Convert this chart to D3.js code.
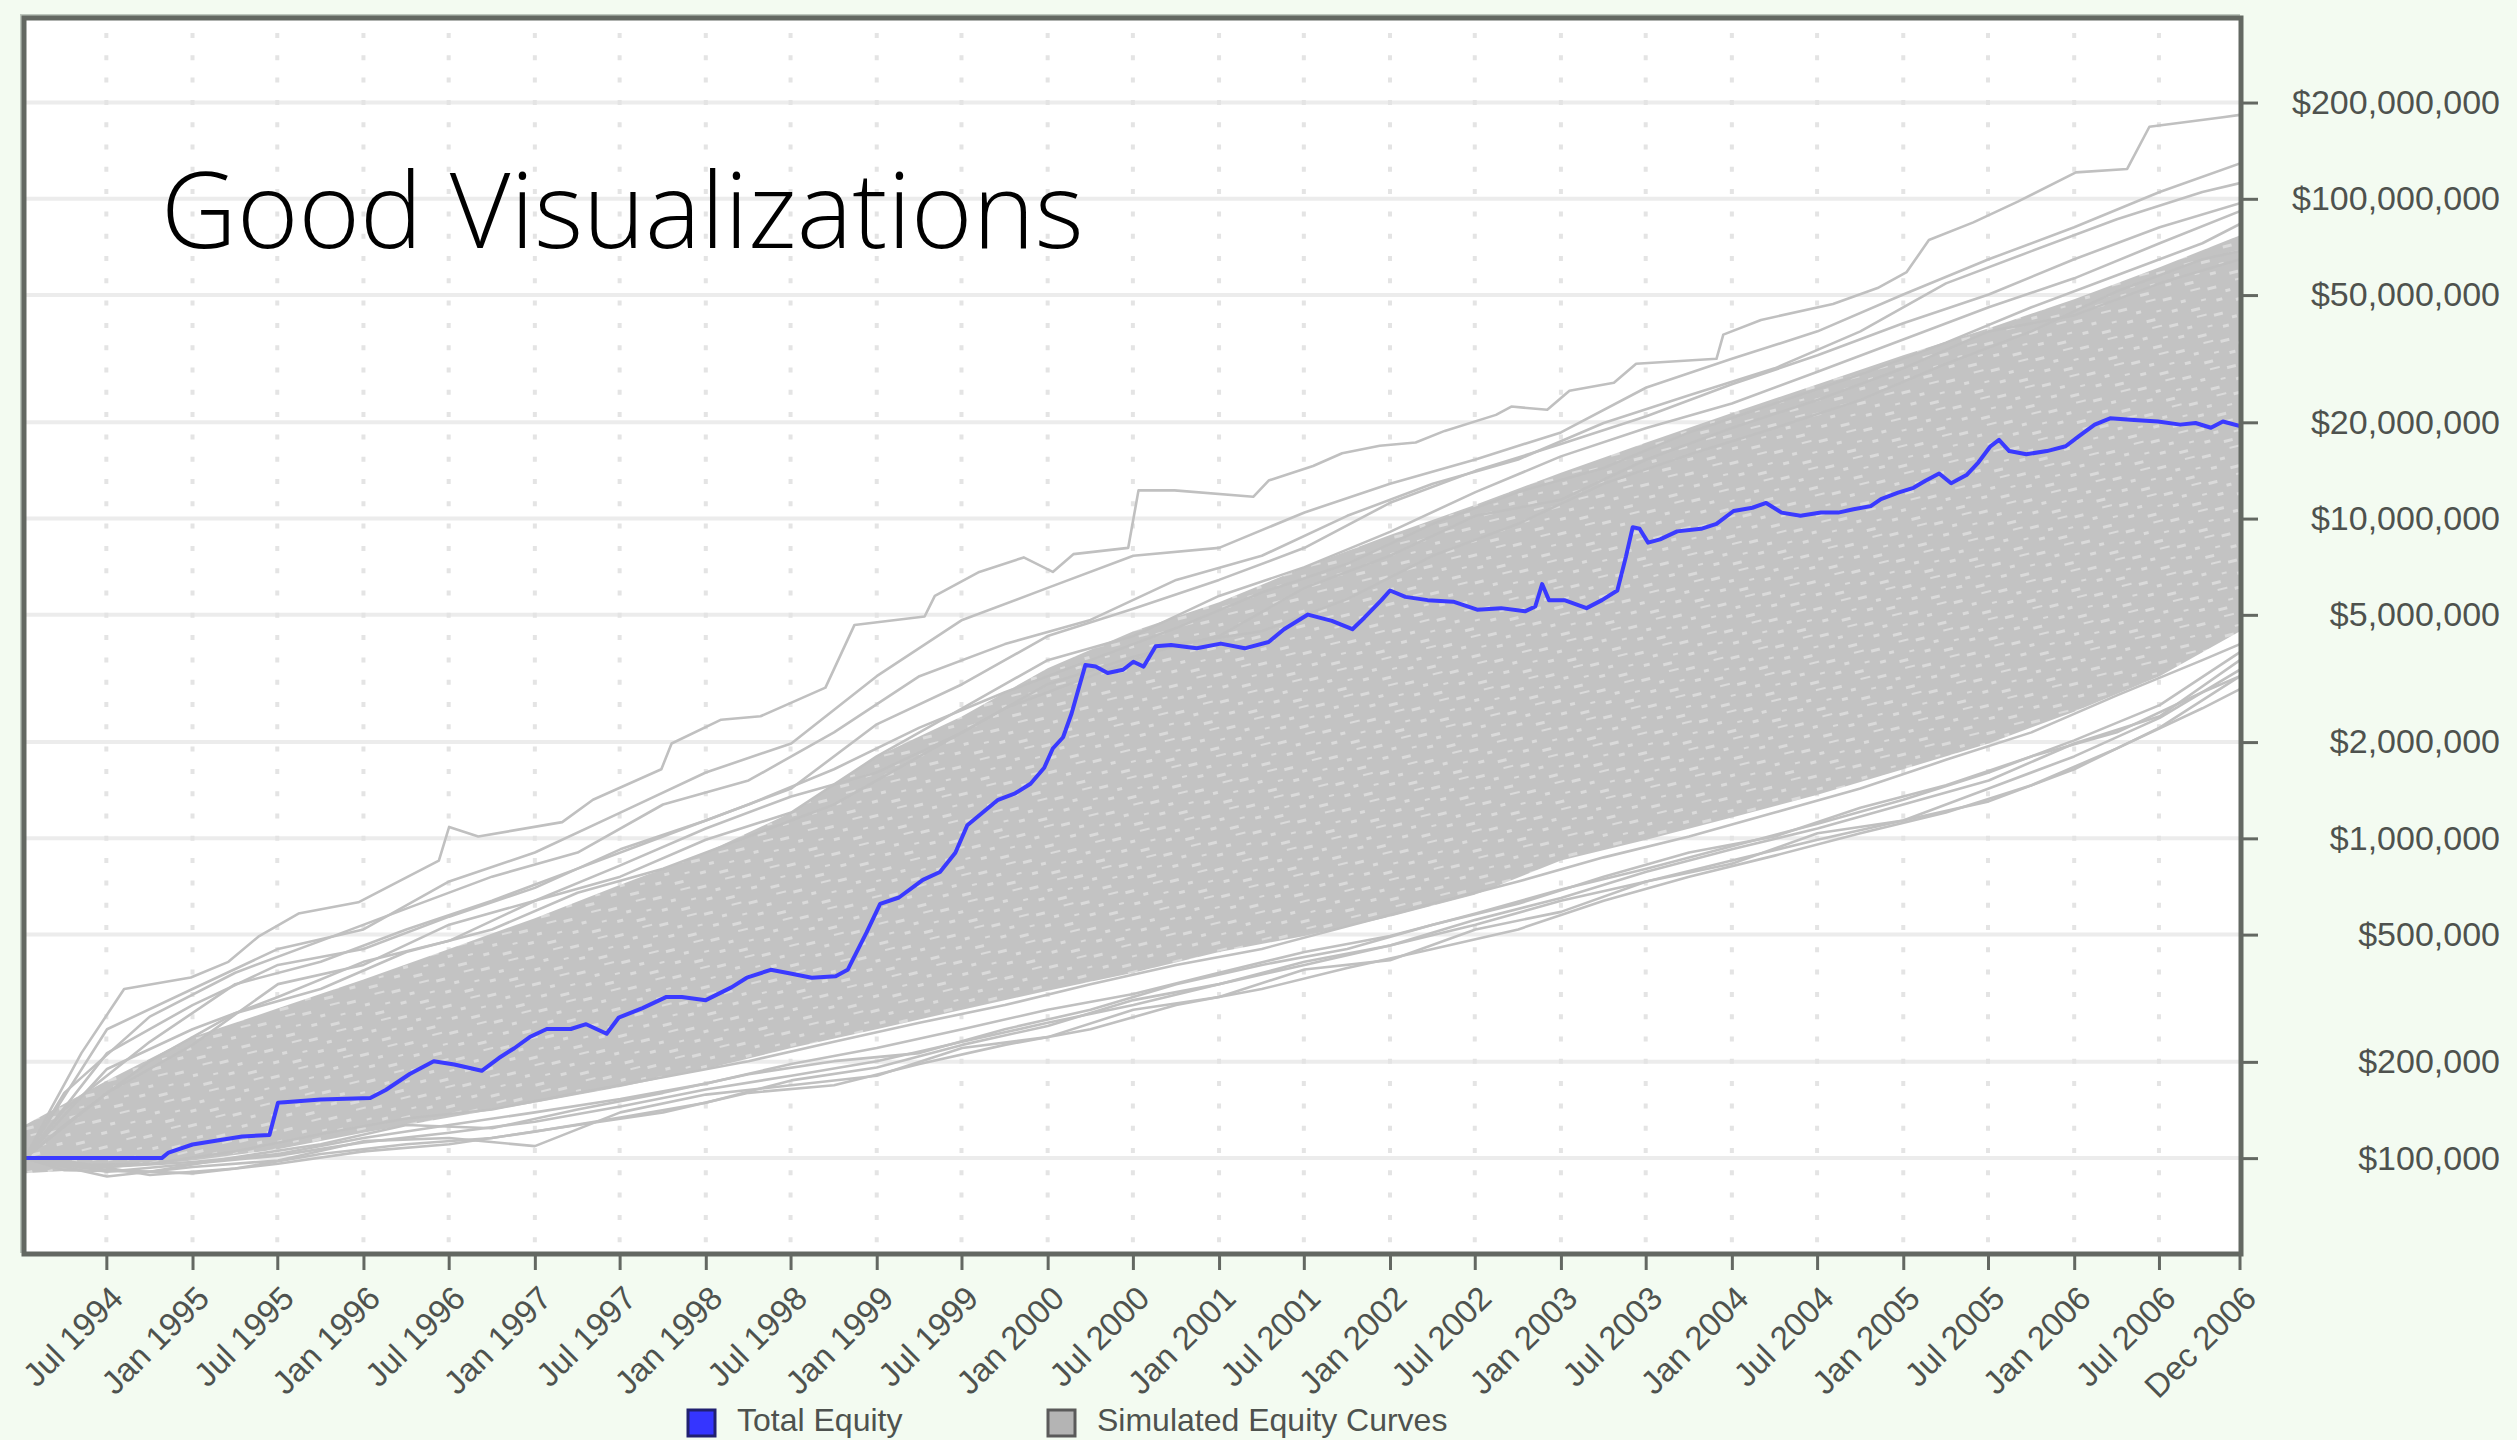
<!DOCTYPE html>
<html>
<head>
<meta charset="utf-8">
<script src="https://cdn.jsdelivr.net/npm/d3@7"></script>
<style>
  html, body { margin: 0; padding: 0; background: #f3fbf1; overflow: hidden; }
  svg { display: block; }
</style>
</head>
<body>
<svg id="chart" width="2517" height="1440"></svg>
<script>
// ---------------- DATA ----------------
const titleText = "Good Visualizations";

const xDomainYears = [1994.02, 2006.97];
const yDomain = [50500, 365000000];

const xTickDates = ["1994-07-01","1995-01-01","1995-07-01","1996-01-01","1996-07-01","1997-01-01","1997-07-01",
  "1998-01-01","1998-07-01","1999-01-01","1999-07-01","2000-01-01","2000-07-01","2001-01-01","2001-07-01",
  "2002-01-01","2002-07-01","2003-01-01","2003-07-01","2004-01-01","2004-07-01","2005-01-01","2005-07-01",
  "2006-01-01","2006-07-01","2006-12-20"];
const xTickLabels = ["Jul 1994","Jan 1995","Jul 1995","Jan 1996","Jul 1996","Jan 1997","Jul 1997",
  "Jan 1998","Jul 1998","Jan 1999","Jul 1999","Jan 2000","Jul 2000","Jan 2001","Jul 2001",
  "Jan 2002","Jul 2002","Jan 2003","Jul 2003","Jan 2004","Jul 2004","Jan 2005","Jul 2005",
  "Jan 2006","Jul 2006","Dec 2006"];

const yTickValues = [100000, 200000, 500000, 1000000, 2000000, 5000000, 10000000, 20000000, 50000000, 100000000, 200000000];
const yTickLabels = ["$100,000","$200,000","$500,000","$1,000,000","$2,000,000","$5,000,000","$10,000,000",
  "$20,000,000","$50,000,000","$100,000,000","$200,000,000"];

const legendLabels = ["Total Equity", "Simulated Equity Curves"];

// Total Equity (blue) : [decimal year, equity $]
const totalEquity = [
 [1994.02,100000],[1994.82,100000],[1994.86,104100],[1995.00,110300],[1995.29,116900],[1995.45,118200],
 [1995.50,149000],[1995.75,152400],[1996.04,154200],[1996.13,163300],[1996.27,183300],[1996.41,201000],
 [1996.53,196300],[1996.69,187500],[1996.79,205600],[1996.88,220600],[1996.97,239100],[1997.07,253400],
 [1997.21,253400],[1997.30,262300],[1997.42,244800],[1997.49,274900],[1997.63,294600],[1997.77,319200],
 [1997.86,319200],[1998.00,311900],[1998.15,342000],[1998.24,366600],[1998.38,388000],[1998.48,379200],
 [1998.62,366600],[1998.76,370600],[1998.83,388000],[1998.94,506900],[1999.02,623700],[1999.13,653100],
 [1999.27,741300],[1999.37,785100],[1999.46,901600],[1999.53,1099000],[1999.62,1204000],[1999.71,1320000],
 [1999.81,1383000],[1999.90,1482000],[1999.98,1663000],[2000.03,1910000],[2000.09,2071000],[2000.14,2461000],
 [2000.18,2930000],[2000.22,3485000],[2000.28,3445000],[2000.35,3290000],[2000.44,3368000],[2000.50,3566000],
 [2000.56,3445000],[2000.63,3985000],[2000.72,4022000],[2000.87,3929000],[2001.01,4065000],[2001.15,3929000],
 [2001.29,4113000],[2001.38,4508000],[2001.52,5010000],[2001.66,4786000],[2001.78,4508000],[2001.85,4898000],
 [2001.95,5558000],[2002.00,5957000],[2002.09,5690000],[2002.22,5558000],[2002.37,5496000],[2002.51,5188000],
 [2002.65,5247000],[2002.79,5128000],[2002.85,5310000],[2002.89,6240000],[2002.93,5558000],[2003.02,5558000],
 [2003.15,5247000],[2003.24,5558000],[2003.33,5957000],[2003.38,7590000],[2003.42,9400000],[2003.46,9290000],
 [2003.51,8410000],[2003.58,8610000],[2003.68,9120000],[2003.82,9290000],[2003.91,9620000],[2004.01,10560000],
 [2004.12,10810000],[2004.20,11190000],[2004.29,10440000],[2004.40,10200000],[2004.52,10440000],[2004.62,10440000],
 [2004.71,10690000],[2004.81,10940000],[2004.87,11510000],[2004.97,12050000],[2005.06,12480000],[2005.13,13130000],
 [2005.21,13840000],[2005.28,12900000],[2005.37,13680000],[2005.44,15000000],[2005.51,16830000],[2005.56,17620000],
 [2005.62,16260000],[2005.72,15890000],[2005.84,16260000],[2005.95,16830000],[2006.03,18150000],[2006.12,19670000],
 [2006.21,20590000],[2006.35,20350000],[2006.49,20120000],[2006.62,19670000],[2006.71,19900000],[2006.80,19230000],
 [2006.87,20120000],[2006.97,19450000]
];

// sampling grids (decimal years) for the simulated curves
const gridA = [1994.02,1994.5,1995.0,1995.5,1996.0,1996.5,1997.0,1997.5,1998.0,1998.5,1999.0,1999.5,2000.0,
  2000.5,2001.0,2001.5,2002.0,2002.5,2003.0,2003.5,2004.0,2004.5,2005.0,2005.5,2006.0,2006.5,2006.97];
const gridB = [1994.02,1994.25,1994.75,1995.25,1995.75,1996.25,1996.75,1997.25,1997.75,1998.25,1998.75,1999.25,
  1999.75,2000.25,2000.75,2001.25,2001.75,2002.25,2002.75,2003.25,2003.75,2004.25,2004.75,2005.25,2005.75,
  2006.25,2006.75,2006.97];

// dense core of the simulated curves (upper and lower edge, on gridA)
const simCoreUpper = [127000,175000,239000,294000,362000,451000,563000,716000,903000,1204000,1804000,2408000,
  3405000,4440000,5470000,7050000,8880000,11050000,13900000,17300000,21400000,26300000,32400000,39400000,
  48500000,61100000,76900000];
const simCoreLower = [89600,92800,98300,106600,120000,134000,149000,167000,190000,221000,253000,291000,334000,
  380000,441000,495000,569000,668000,852000,990000,1163000,1368000,1645000,1980000,2490000,3214000,4440000];

// individual simulated curves at the fringes
const simTop = [
 [1994.02,100000],[1994.17,142000],[1994.35,213000],[1994.60,338000],[1994.99,367000],[1995.21,411000],
 [1995.39,495000],[1995.62,582000],[1995.97,631000],[1996.15,708000],[1996.44,852000],[1996.50,1086000],
 [1996.67,1013000],[1997.16,1124000],[1997.34,1320000],[1997.74,1645000],[1997.80,1980000],[1998.09,2350000],
 [1998.32,2408000],[1998.70,2960000],[1998.87,4650000],[1999.28,4940000],[1999.34,5730000],[1999.60,6810000],
 [1999.86,7560000],[2000.03,6810000],[2000.15,7740000],[2000.47,8100000],[2000.53,12250000],[2000.74,12250000],
 [2001.20,11700000],[2001.29,13150000],[2001.55,14600000],[2001.72,16000000],[2001.94,16900000],[2002.15,17300000],
 [2002.32,18800000],[2002.62,21100000],[2002.71,22400000],[2002.92,21900000],[2003.05,25100000],[2003.31,26600000],
 [2003.44,30500000],[2003.91,31600000],[2003.95,37600000],[2004.17,41800000],[2004.59,46900000],[2004.85,52600000],
 [2005.02,59000000],[2005.15,74300000],[2005.41,84400000],[2005.67,98000000],[2006.01,121000000],[2006.31,124000000],
 [2006.44,168000000],[2006.87,180000000],[2006.97,183000000]
];
const simUpper2 = [100000,253000,338000,451000,519000,733000,903000,1204000,1607000,1980000,3214000,4820000,
  6070000,7650000,8100000,10450000,12850000,15300000,18600000,25700000,31600000,38500000,50200000,64700000,
  81500000,105000000,129000000];
const simUpper3 = [100000,160000,277000,380000,478000,603000,759000,903000,1276000,1517000,2145000,3214000,
  4050000,4820000,6430000,7650000,10200000,12850000,15300000,19900000,24300000,29500000,38500000,54400000,
  68600000,86300000,105000000,112000000];
const simUpper4 = [100000,213000,301000,402000,451000,569000,700000,924000,1137000,1432000,2273000,3034000,
  4290000,5220000,6430000,8100000,11200000,14100000,17100000,20900000,26300000,32400000,40800000,50200000,
  64700000,81500000,96900000];
const simUpper5 = [100000,142000,231000,350000,411000,519000,638000,804000,1013000,1276000,1645000,2220000,
  2864000,3608000,4545000,5870000,7220000,9630000,12100000,14400000,18600000,22900000,28200000,35500000,
  45800000,57700000,72600000,83400000];
const simUpper6 = [100000,190000,253000,319000,411000,478000,638000,759000,990000,1204000,1804000,2551000,
  3608000,4290000,5730000,7050000,9090000,12100000,15650000,19200000,22900000,28800000,36300000,45800000,
  56400000,72600000,91500000];
const simUpper7 = [100000,127000,201000,284000,338000,441000,519000,676000,804000,1013000,1276000,1804000,
  2551000,3214000,4050000,4440000,5600000,7650000,9630000,12850000,15850000,19200000,23500000,30500000,
  38500000,51400000,64700000,68600000];
const simUpper8 = [100000,160000,226000,350000,402000,537000,638000,823000,1073000,1352000,1607000,2145000,
  3034000,3700000,4290000,6070000,7650000,10200000,11450000,15300000,19200000,23500000,29500000,38500000,
  43200000,54400000,64700000];
const simLower1 = [100000,87600,93800,98300,113000,115600,109000,139000,158000,169000,181000,221000,239000,
  291000,319000,389000,416000,519000,589000,733000,833000,1037000,1137000,1432000,1804000,2380000,3370000];
const simLower2 = [100000,91700,90700,100600,110500,127000,124000,142000,160000,183000,201000,213000,253000,
  291000,350000,402000,451000,537000,624000,759000,903000,1013000,1247000,1466000,1804000,2145000,2864000,3214000];
const simLower3 = [100000,93800,97200,103000,115600,127000,139000,153000,171000,197000,221000,253000,291000,
  326000,380000,441000,495000,582000,692000,804000,945000,1110000,1320000,1607000,2025000,2610000,3822000];
const simLower4 = [100000,94900,96000,105000,119000,133000,142000,160000,179000,201000,231000,265000,301000,
  350000,402000,451000,531000,625000,733000,872000,1013000,1204000,1432000,1760000,2145000,2800000,3608000,4050000];
const simLower5 = [100000,90700,96000,101800,112000,120000,130000,145000,164000,181000,201000,231000,265000,
  301000,350000,411000,462000,537000,638000,733000,852000,990000,1137000,1305000,1645000,2220000,3214000];
const simLower6 = [100000,98300,88600,92800,103000,110500,115600,127000,139000,160000,169000,197000,226000,
  253000,301000,338000,393000,451000,519000,638000,759000,883000,1037000,1204000,1466000,1911000,2551000,2930000];
const simLower7 = [100000,91700,89600,96000,105000,110500,121000,134000,149000,175000,192000,226000,259000,
  312000,350000,402000,462000,556000,651000,786000,924000,1073000,1276000,1517000,1980000,2408000,3608000];

// ---------------- HELPERS ----------------
function decYear(v) {
  const yr = Math.floor(v);
  const a = new Date(yr, 0, 1), b = new Date(yr + 1, 0, 1);
  return new Date(+a + (v - yr) * (b - a));
}
const parseDate = d3.timeParse("%Y-%m-%d");

// ---------------- LAYOUT ----------------
const W = 2517, H = 1440;
const plot = { left: 25, right: 2240, top: 19, bottom: 1253 };

const svg = d3.select("#chart");
svg.append("rect").attr("width", W).attr("height", H).attr("fill", "#f3fbf1");

const defs = svg.append("defs");
// light speckle texture for the dense band of overlapping curves
const pat = defs.append("pattern").attr("id", "speckle")
  .attr("patternUnits", "userSpaceOnUse").attr("width", 46).attr("height", 27)
  .attr("patternTransform", "rotate(-14)");
pat.append("rect").attr("width", 46).attr("height", 27).attr("fill", "#c3c3c3");
[[2,3,9,3],[19,9,5,3],[31,1,10,2],[8,16,6,3],[27,20,9,3],[39,13,5,2]].forEach(r => {
  pat.append("rect").attr("x", r[0]).attr("y", r[1]).attr("width", r[2]).attr("height", r[3])
    .attr("fill", "#dadada");
});

const x = d3.scaleTime().domain(xDomainYears.map(decYear)).range([plot.left, plot.right]);
const y = d3.scaleLog().domain(yDomain).range([plot.bottom, plot.top]);

svg.append("rect").attr("x", plot.left).attr("y", plot.top)
  .attr("width", plot.right - plot.left).attr("height", plot.bottom - plot.top).attr("fill", "#ffffff");

const gridG = svg.append("g");
gridG.selectAll("line.h").data(yTickValues).join("line")
  .attr("x1", plot.left).attr("x2", plot.right)
  .attr("y1", d => y(d)).attr("y2", d => y(d))
  .attr("stroke", "#ececec").attr("stroke-width", 4);
gridG.selectAll("line.v").data(xTickDates.slice(0, -1)).join("line")
  .attr("x1", d => x(parseDate(d))).attr("x2", d => x(parseDate(d)))
  .attr("y1", plot.top + 14).attr("y2", plot.bottom)
  .attr("stroke", "#e4e4e4").attr("stroke-width", 4)
  .attr("stroke-dasharray", "5 17.3");

defs.append("clipPath").attr("id", "plotclip").append("rect")
  .attr("x", plot.left).attr("y", plot.top)
  .attr("width", plot.right - plot.left).attr("height", plot.bottom - plot.top);

const dataG = svg.append("g").attr("clip-path", "url(#plotclip)");

// dense core of simulations
const core = gridA.map((t, i) => ({ t, hi: simCoreUpper[i], lo: simCoreLower[i] }));
dataG.append("path").datum(core)
  .attr("d", d3.area().x(d => x(decYear(d.t))).y0(d => y(d.lo)).y1(d => y(d.hi)))
  .attr("fill", "url(#speckle)");

const simGray = "#c0c0c0";
const line = d3.line().x(d => x(decYear(d[0]))).y(d => y(d[1]));
const onGrid = (grid, vals) => grid.map((t, i) => [t, vals[i]]);
const simCurves = [
  simTop,
  onGrid(gridA, simUpper2), onGrid(gridB, simUpper3), onGrid(gridA, simUpper4),
  onGrid(gridB, simUpper5), onGrid(gridA, simUpper6), onGrid(gridB, simUpper7), onGrid(gridA, simUpper8),
  onGrid(gridA, simLower1), onGrid(gridB, simLower2), onGrid(gridA, simLower3),
  onGrid(gridB, simLower4), onGrid(gridA, simLower5), onGrid(gridB, simLower6), onGrid(gridA, simLower7)
];
dataG.selectAll("path.sim").data(simCurves).join("path")
  .attr("class", "sim").attr("d", line)
  .attr("fill", "none").attr("stroke", simGray).attr("stroke-width", 2.6)
  .attr("stroke-linejoin", "round");

// total equity
dataG.append("path").datum(totalEquity).attr("d", line)
  .attr("fill", "none").attr("stroke", "#3a3aff").attr("stroke-width", 4)
  .attr("stroke-linejoin", "round");

// ---------------- AXES / FRAME ----------------
const axisColor = "#636862";
svg.append("path")
  .attr("d", `M${plot.left - 4},${plot.bottom} V${plot.top - 4} H${plot.right}`)
  .attr("fill", "none").attr("stroke", "#bcc6bc").attr("stroke-width", 2);
svg.append("rect").attr("x", plot.left - 1).attr("y", plot.top - 1)
  .attr("width", plot.right - plot.left + 2).attr("height", plot.bottom - plot.top + 2)
  .attr("fill", "none").attr("stroke", axisColor).attr("stroke-width", 5);

const xAxis = d3.axisBottom(x)
  .tickValues(xTickDates.map(parseDate))
  .tickFormat((d, i) => xTickLabels[i])
  .tickSize(16).tickSizeOuter(0);
const gx = svg.append("g").attr("transform", `translate(0,${plot.bottom + 1})`).call(xAxis);
gx.select(".domain").remove();
gx.selectAll(".tick line").attr("stroke", axisColor).attr("stroke-width", 3);
gx.selectAll(".tick text")
  .attr("font-family", "'Liberation Sans', Arial, sans-serif")
  .attr("font-size", 33).attr("fill", "#4e524e")
  .attr("text-anchor", "end")
  .attr("dy", null).attr("y", 0)
  .attr("transform", "translate(12,40) rotate(-45)")
  .attr("dominant-baseline", "middle");

const yAxis = d3.axisRight(y)
  .tickValues(yTickValues)
  .tickFormat((d, i) => yTickLabels[i])
  .tickSize(17).tickSizeOuter(0);
const gy = svg.append("g").attr("transform", `translate(${plot.right + 1},0)`).call(yAxis);
gy.select(".domain").remove();
gy.selectAll(".tick line").attr("stroke", axisColor).attr("stroke-width", 3);
gy.selectAll(".tick text")
  .attr("font-family", "'Liberation Sans', Arial, sans-serif")
  .attr("font-size", 34).attr("fill", "#4e524e")
  .attr("text-anchor", "end")
  .attr("x", 2500 - plot.right - 1);

// ---------------- TITLE ----------------
svg.append("text").attr("x", 161).attr("y", 248)
  .attr("font-family", "'Open Sans', 'Noto Sans', sans-serif")
  .attr("font-weight", 300).attr("font-size", 105).attr("fill", "#000")
  .text(titleText);

// ---------------- LEGEND ----------------
const legend = svg.append("g");
const legendItems = [
  { label: legendLabels[0], x: 688, fill: "#3535ff", stroke: "#202070" },
  { label: legendLabels[1], x: 1048, fill: "#b4b4b4", stroke: "#5a5a5a" }
];
legendItems.forEach(it => {
  legend.append("rect").attr("x", it.x).attr("y", 1410).attr("width", 27).attr("height", 26)
    .attr("fill", it.fill).attr("stroke", it.stroke).attr("stroke-width", 3);
  legend.append("text").attr("x", it.x + 49).attr("y", 1431)
    .attr("font-family", "'Liberation Sans', Arial, sans-serif")
    .attr("font-size", 32).attr("fill", "#4e524e").text(it.label);
});
</script>
</body>
</html>
